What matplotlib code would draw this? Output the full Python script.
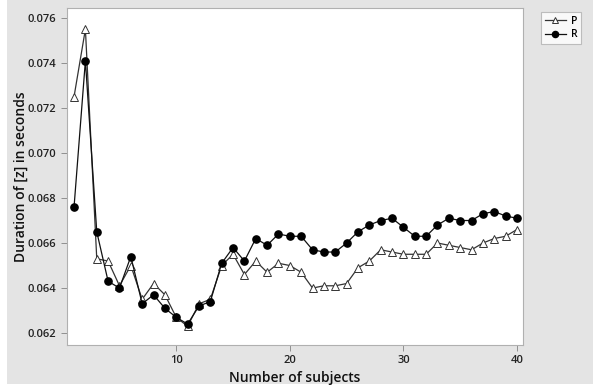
import matplotlib
matplotlib.use("Agg")
import matplotlib.pyplot as plt
from matplotlib.patches import Rectangle

# durations by number of subjects
subjects = list(range(1, 41))
p_vals = [0.0725, 0.0755, 0.0653, 0.0652, 0.0641, 0.0650, 0.0635, 0.0642, 0.0637, 0.0627,
          0.0623, 0.0633, 0.0635, 0.0650, 0.0655, 0.0646, 0.0652, 0.0647, 0.0651, 0.0650,
          0.0647, 0.0640, 0.0641, 0.0641, 0.0642, 0.0649, 0.0652, 0.0657, 0.0656, 0.0655,
          0.0655, 0.0655, 0.0660, 0.0659, 0.0658, 0.0657, 0.0660, 0.0662, 0.0663, 0.0666]
r_vals = [0.0676, 0.0741, 0.0665, 0.0643, 0.0640, 0.0654, 0.0633, 0.0637, 0.0631, 0.0627,
          0.0624, 0.0632, 0.0634, 0.0651, 0.0658, 0.0652, 0.0662, 0.0659, 0.0664, 0.0663,
          0.0663, 0.0657, 0.0656, 0.0656, 0.0660, 0.0665, 0.0668, 0.0670, 0.0671, 0.0667,
          0.0663, 0.0663, 0.0668, 0.0671, 0.0670, 0.0670, 0.0673, 0.0674, 0.0672, 0.0671]
x_ticks = [10, 20, 30, 40]
y_ticks = [0.062, 0.064, 0.066, 0.068, 0.070, 0.072, 0.074, 0.076]

plt.rcParams['font.family'] = ['Open Sans', 'DejaVu Sans']

fig = plt.figure(figsize=(5.93, 3.88), dpi=100, facecolor='white')
# grey panel behind the plot
fig.patches.append(Rectangle((7 / 593, 4 / 388), 1, 1, transform=fig.transFigure,
                             facecolor='#e4e4e4', edgecolor='none', zorder=-10))

ax = fig.add_axes([67 / 593, 1 - 345 / 388, (523 - 67) / 593, (345 - 8) / 388])
ax.set_facecolor('white')

ax.plot(subjects, p_vals, color='#333333', lw=0.9, marker='^', ms=5.2,
        mfc='white', mec='#333333', mew=0.7, label='P')
ax.plot(subjects, r_vals, color='#111111', lw=0.9, marker='o', ms=5.2,
        mfc='black', mec='black', label='R')

ax.set_xlim(0.38, 40.53)
ax.set_ylim(0.06147, 0.07644)
ax.set_xticks(x_ticks)
ax.set_yticks(y_ticks)
ax.set_yticklabels([f'{v:.3f}' for v in y_ticks])

for s in ax.spines.values():
    s.set_color('#b0b0b0')
    s.set_linewidth(0.8)
ax.tick_params(direction='out', length=4, width=0.7, color='#909090',
               labelsize=8, labelcolor='#222222')
for lab in ax.get_xticklabels() + ax.get_yticklabels():
    lab.set_fontweight('semibold')

ax.set_xlabel('Number of subjects', fontsize=10, fontweight='semibold', color='#111111', labelpad=3)
ax.set_ylabel('Duration of [z] in seconds', fontsize=10, fontweight='semibold', color='#111111')
ax.yaxis.set_label_coords(-0.085, 0.5)

leg = fig.legend(loc='upper left', bbox_to_anchor=(536 / 593, 1 - 7 / 388), fontsize=7.5,
                 frameon=True, fancybox=False, handlelength=2.0, borderpad=0.35,
                 labelspacing=0.25, handletextpad=0.5, markerscale=0.85)
leg.get_frame().set_edgecolor('#b0b0b0')
leg.get_frame().set_linewidth(0.8)
for t in leg.get_texts():
    t.set_fontweight('semibold')

fig.savefig('out.png', dpi=100, facecolor=fig.get_facecolor())
